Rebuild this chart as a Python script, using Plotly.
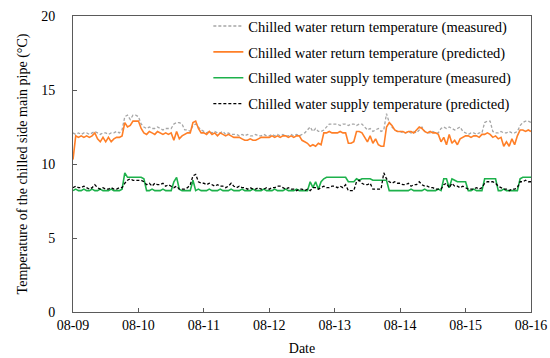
import pandas as pd
import plotly.graph_objects as go

# hourly readings from 08-09 00:00 to 08-16 00:00 (169 points)
return_measured = (
    [12.1,12.0,12.1,12.0,12.1,12.1,12.0,12.1,12.2,12.1,12.0,12.1,12.1,12.0,12.1,12.1,12.2,12.1,12.3,13.2,13.3,13.0,13.3,13.3]
    + [13.2,12.7,12.5,12.4,12.5,12.4,12.4,12.5,12.4,12.3,12.4,12.4,12.4,12.7,12.8,12.8,12.7,12.3,12.3,12.2,12.6,12.7,12.5,12.3]
    + [12.2,12.1,12.2,12.1,12.2,12.1,12.1,12.2,12.0,12.1,12.0,12.0,12.0,11.9,12.0,11.9,12.0,11.9,11.9,12.0,11.9,11.9,12.0,11.9]
    + [11.9,12.0,11.9,12.0,11.9,12.0,11.9,11.9,12.0,11.9,12.0,11.9,12.0,12.1,12.3,12.5,12.2,12.4,12.2,12.2,12.3,12.5,12.7,12.7]
    + [12.7,12.7,12.6,12.7,12.7,12.6,12.7,12.7,12.6,12.7,12.7,12.5,12.3,12.4,12.2,12.3,12.4,12.2,12.3,13.4,12.8,12.5,12.3,12.2]
    + [12.2,12.1,12.1,12.2,12.1,12.2,12.1,12.3,12.5,12.2,12.1,12.1,12.2,12.1,12.1,12.4,12.5,12.4,12.5,12.4,12.3,12.4,12.5,12.2]
    + [12.1,12.0,12.1,12.1,12.0,12.1,12.1,12.8,12.9,12.9,12.2,12.1,12.1,12.2,12.1,12.1,12.2,12.1,12.1,12.2,12.6,12.8,12.9,12.9,12.8]
)
return_predicted = (
    [10.3,11.9,11.8,11.9,11.8,11.9,11.8,11.9,12.1,11.7,11.5,11.8,11.5,11.8,11.5,11.7,11.8,11.8,11.9,12.8,12.5,12.6,12.9,12.9]
    + [12.9,12.4,12.1,12.0,12.2,12.1,12.0,12.2,12.1,12.0,12.1,12.0,12.1,11.6,12.2,11.7,11.9,12.0,12.1,12.1,12.8,12.9,12.4,12.1]
    + [12.1,12.0,12.2,12.0,12.1,11.9,12.1,12.0,11.9,12.0,11.9,11.8,11.8,11.8,11.7,11.6,11.6,11.7,11.6,11.6,11.7,11.8,11.8,11.8]
    + [11.8,11.9,11.8,11.9,11.8,11.9,11.9,11.8,11.9,11.8,11.9,11.9,11.6,11.5,11.4,11.2,11.3,11.2,11.4,11.3,12.1,12.1,12.2,12.1]
    + [12.1,12.1,12.2,12.1,12.1,11.4,11.4,11.5,12.2,12.2,12.1,11.8,11.5,11.9,11.4,11.7,11.3,11.2,11.2,12.5,12.8,12.6,12.3,12.2]
    + [12.2,12.2,12.1,12.2,12.2,12.1,12.3,12.5,12.4,12.2,12.1,12.2,12.1,12.1,12.0,11.5,11.8,11.3,12.0,11.4,11.6,11.3,11.7,11.8]
    + [11.9,11.9,11.8,11.9,11.9,11.8,12.0,12.0,12.1,12.0,11.8,11.9,11.7,11.8,11.2,11.5,11.2,11.7,11.3,11.9,12.3,12.3,12.2,12.3,12.2]
)
supply_measured = (
    [8.2,8.3,8.2,8.2,8.3,8.2,8.2,8.3,8.2,8.2,8.3,8.2,8.2,8.2,8.3,8.2,8.2,8.2,8.3,9.4,9.1,9.1,9.1,9.1]
    + [9.1,9.1,9.0,8.2,8.2,8.3,8.2,8.2,8.2,8.3,8.2,8.2,8.2,8.8,9.1,8.3,8.2,8.2,8.2,8.2,8.9,8.2,8.3,8.2]
    + [8.2,8.2,8.3,8.2,8.2,8.2,8.3,8.2,8.2,8.2,8.3,8.2,8.2,8.2,8.3,8.2,8.2,8.2,8.3,8.2,8.2,8.2,8.3,8.2]
    + [8.2,8.2,8.3,8.2,8.2,8.2,8.3,8.2,8.2,8.2,8.3,8.2,8.2,8.2,8.2,8.8,8.4,8.8,8.3,8.8,9.0,9.1,9.1,9.1]
    + [9.1,9.1,9.1,9.1,9.1,8.8,8.8,8.8,9.0,8.9,9.0,9.0,9.0,9.0,8.9,8.9,8.9,8.9,8.9,8.9,8.2,8.2,8.2,8.2]
    + [8.2,8.2,8.2,8.2,8.3,8.2,8.2,8.2,8.2,8.3,8.2,8.2,8.2,8.2,8.3,8.2,9.0,9.0,8.4,9.0,8.9,8.8,8.8,8.8]
    + [8.8,8.2,8.2,8.3,8.2,8.2,8.2,9.0,9.0,9.0,9.0,9.0,8.2,8.2,8.3,8.2,8.2,8.2,8.2,8.2,9.0,9.1,9.1,9.1,9.1]
)
supply_predicted = (
    [8.4,8.5,8.4,8.4,8.5,8.4,8.3,8.4,8.6,8.4,8.3,8.4,8.3,8.3,8.4,8.3,8.3,8.4,8.4,8.7,8.9,9.0,8.9,8.9]
    + [8.9,8.9,8.8,8.6,8.7,8.5,8.7,8.6,8.6,8.7,8.5,8.6,8.5,8.4,8.5,8.3,8.3,8.3,8.4,8.6,9.2,9.3,8.8,8.7]
    + [8.7,8.6,8.7,8.6,8.5,8.6,8.5,8.5,8.4,8.5,8.7,8.5,8.4,8.5,8.4,8.4,8.3,8.4,8.3,8.3,8.4,8.3,8.3,8.4]
    + [8.3,8.4,8.4,8.5,8.5,8.4,8.3,8.4,8.3,8.3,8.2,8.3,8.3,8.2,8.3,8.2,8.4,8.4,8.3,8.4,8.5,8.4,8.4,8.5]
    + [8.5,8.4,8.5,8.4,8.6,8.2,8.2,8.2,8.8,8.9,8.7,8.6,8.6,8.7,8.3,8.3,8.3,8.3,9.4,9.0,8.8,8.7,8.8,8.7]
    + [8.7,8.6,8.6,8.7,8.5,8.6,8.6,8.8,8.6,8.5,8.5,8.4,8.4,8.3,8.3,8.3,8.6,8.7,8.4,8.7,8.5,8.5,8.4,8.5]
    + [8.4,8.3,8.3,8.3,8.4,8.3,8.4,8.7,8.8,8.8,8.8,8.7,8.5,8.4,8.3,8.3,8.2,8.3,8.3,8.4,8.8,8.8,8.9,8.8,8.8]
)
times = pd.date_range("2021-08-09 00:00", periods=len(return_measured), freq="h")
tick_vals = pd.date_range("2021-08-09", "2021-08-16", freq="D")
tick_text = ["08-09", "08-10", "08-11", "08-12", "08-13", "08-14", "08-15", "08-16"]
y_ticks = [0, 5, 10, 15, 20]

names = [
    "Chilled water return temperature (measured)",
    "Chilled water return temperature (predicted)",
    "Chilled water supply temperature (measured)",
    "Chilled water supply temperature (predicted)",
]
FONT = "Liberation Serif, Times New Roman, serif"

fig = go.Figure()
fig.add_trace(go.Scatter(x=times, y=return_measured, name=names[0], mode="lines", legendgroup="a",
                         line=dict(color="#A6A6A6", width=1.3, dash="3px,2px")))
fig.add_trace(go.Scatter(x=times, y=return_predicted, name=names[1], mode="lines", legendgroup="b",
                         line=dict(color="#FF7F27", width=1.6)))
fig.add_trace(go.Scatter(x=times, y=supply_measured, name=names[2], mode="lines", legendgroup="c",
                         line=dict(color="#1DB14B", width=1.6)))
fig.add_trace(go.Scatter(x=times, y=supply_predicted, name=names[3], mode="lines", legendgroup="d",
                         line=dict(color="#000000", width=1.3, dash="3px,2px")))

axis_common = dict(showline=True, linecolor="#5A5A5A", linewidth=1, mirror=True, showgrid=False,
                   zeroline=False, ticks="inside", ticklen=4, tickcolor="#5A5A5A", automargin=False,
                   tickfont=dict(family=FONT, size=14, color="#000"))
fig.update_xaxes(range=[tick_vals[0], tick_vals[-1]], tickvals=tick_vals, ticktext=tick_text,
                 title=dict(text="Date", font=dict(family=FONT, size=14, color="#000"), standoff=11),
                 **axis_common)
fig.update_yaxes(range=[0, 20], tickvals=y_ticks, ticklabelstandoff=14,
                 title=dict(text="Temperature of the chilled side main pipe (°C)",
                            font=dict(family=FONT, size=14, color="#000"), standoff=10),
                 **axis_common)
fig.update_layout(
    width=550, height=358, margin=dict(l=73, r=19, t=10, b=46),
    paper_bgcolor="white", plot_bgcolor="white",
    font=dict(family=FONT, size=14, color="#000"),
    legend=dict(x=0.968, xanchor="right", y=1.02, yanchor="top", bgcolor="rgba(0,0,0,0)",
                traceorder="grouped", tracegroupgap=4, font=dict(family=FONT, size=14.5, color="#000")),
)
fig.write_html("out.html", config={"displayModeBar": False},
               post_script="document.body.style.margin='0';document.body.style.padding='0';")
